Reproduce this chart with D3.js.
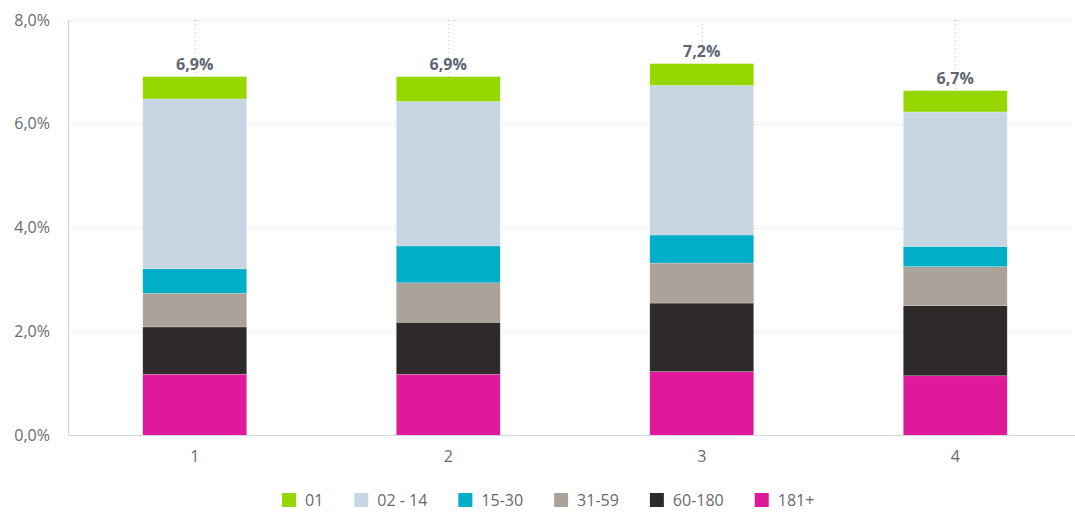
<!DOCTYPE html>
<html>
<head>
<meta charset="utf-8">
<script src="https://cdn.jsdelivr.net/npm/d3@7"></script>
<style>
  body { margin: 0; background: #fff; }
  text { font-family: "Open Sans", sans-serif; }
</style>
</head>
<body>
<script>
var width = 1075,
    height = 512,
    marginLeft = 68,
    marginTop = 20,
    plotBottom = 435.5
;

// data
var categories = ["1", "2", "3", "4"];
var seriesNames = ["181+", "60-180", "31-59", "15-30", "02 - 14", "01"];
var seriesColors = ["#e0189a", "#2d2a29", "#aba399", "#00aec7", "#c6d6e2", "#97d700"];
var values181 = [1.18, 1.18, 1.23, 1.15];
var values60 = [0.91, 1.00, 1.32, 1.35];
var values31 = [0.65, 0.76, 0.77, 0.75];
var values15 = [0.47, 0.71, 0.54, 0.39];
var values02 = [3.27, 2.78, 2.88, 2.59];
var values01 = [0.43, 0.48, 0.42, 0.41];
var totals = [6.9, 6.9, 7.2, 6.7];
var yTicks = [0, 2, 4, 6, 8];
var legendOrder = ["01", "02 - 14", "15-30", "31-59", "60-180", "181+"];

var seriesValues = [values181, values60, values31, values15, values02, values01];

var table = categories.map(function (c, i) {
    var row = { cat: c };
    seriesNames.forEach(function (s, j) { row[s] = seriesValues[j][i]; });
    return row;
});

var stacked = d3.stack().keys(seriesNames)(table);

var svg = d3.select("body").append("svg")
    .attr("width", width)
    .attr("height", height)
;

var x = d3.scaleBand()
    .domain(categories)
    .range([marginLeft, 1082])
    .paddingInner(0.59)
    .paddingOuter(0.295)
;

var y = d3.scaleLinear()
    .domain([0, 8])
    .range([plotBottom, marginTop])
;

var fmt = function (v) { return d3.format(".1f")(v).replace(".", ",") + "%"; };

// horizontal grid
svg.append("g")
    .selectAll("line")
    .data(yTicks.filter(function (t) { return t > 0; }))
    .join("line")
    .attr("x1", marginLeft + 2)
    .attr("x2", 1072)
    .attr("y1", function (d) { return Math.round(y(d)) + 0.5; })
    .attr("y2", function (d) { return Math.round(y(d)) + 0.5; })
    .attr("stroke", "#cfcfcf")
    .attr("stroke-dasharray", "1,3")
;

// vertical grid at categories
svg.append("g")
    .selectAll("line")
    .data(categories)
    .join("line")
    .attr("x1", function (d) { return Math.round(x(d) + x.bandwidth() / 2) + 0.5; })
    .attr("x2", function (d) { return Math.round(x(d) + x.bandwidth() / 2) + 0.5; })
    .attr("y1", marginTop)
    .attr("y2", plotBottom)
    .attr("stroke", "#cfcfcf")
    .attr("stroke-dasharray", "1,3")
;

// y axis labels
svg.append("g")
    .selectAll("text")
    .data(yTicks)
    .join("text")
    .attr("x", 50)
    .attr("y", function (d) { return y(d); })
    .attr("dy", "0.35em")
    .attr("text-anchor", "end")
    .attr("fill", "#666a70")
    .style("font-size", "16px")
    .text(fmt)
;

// bars
svg.append("g")
    .selectAll("g")
    .data(stacked)
    .join("g")
    .attr("fill", function (d, i) { return seriesColors[i]; })
    .selectAll("rect")
    .data(function (d) { return d; })
    .join("rect")
    .attr("x", function (d) { return x(d.data.cat); })
    .attr("width", x.bandwidth())
    .attr("y", function (d) { return y(d[1]); })
    .attr("height", function (d) { return y(d[0]) - y(d[1]); })
    .attr("stroke", "rgba(255,255,255,0.35)")
    .attr("stroke-width", 0.6)
;

// axis lines
svg.append("line")
    .attr("x1", marginLeft + 0.5)
    .attr("x2", marginLeft + 0.5)
    .attr("y1", marginTop)
    .attr("y2", plotBottom)
    .attr("stroke", "#cdd2dc")
;
svg.append("line")
    .attr("x1", marginLeft)
    .attr("x2", width)
    .attr("y1", plotBottom)
    .attr("y2", plotBottom)
    .attr("stroke", "#d8d8d8")
;

// x labels
svg.append("g")
    .selectAll("text")
    .data(categories)
    .join("text")
    .attr("x", function (d) { return x(d) + x.bandwidth() / 2; })
    .attr("y", 456)
    .attr("dy", "0.35em")
    .attr("text-anchor", "middle")
    .attr("fill", "#666a70")
    .style("font-size", "16px")
    .text(function (d) { return d; })
;

// total labels
svg.append("g")
    .selectAll("text")
    .data(categories)
    .join("text")
    .attr("x", function (d) { return x(d) + x.bandwidth() / 2; })
    .attr("y", function (d, i) { return y(stacked[stacked.length - 1][i][1]) - 12; })
    .attr("dy", "0.35em")
    .attr("text-anchor", "middle")
    .attr("fill", "#5f6573")
    .style("font-size", "16px")
    .style("font-weight", "bold")
    .text(function (d, i) { return fmt(totals[i]); })
;

// legend
var legend = svg.append("g");
var lx = 282;
legendOrder.forEach(function (name) {
    var idx = seriesNames.indexOf(name);
    legend.append("rect")
        .attr("x", lx)
        .attr("y", 493)
        .attr("width", 14)
        .attr("height", 14)
        .attr("fill", seriesColors[idx])
    ;
    var t = legend.append("text")
        .attr("x", lx + 23)
        .attr("y", 500)
        .attr("dy", "0.35em")
        .attr("fill", "#666a70")
        .style("font-size", "16px")
        .text(name)
    ;
    lx += 23 + t.node().getComputedTextLength() + 31;
});
</script>
</body>
</html>
